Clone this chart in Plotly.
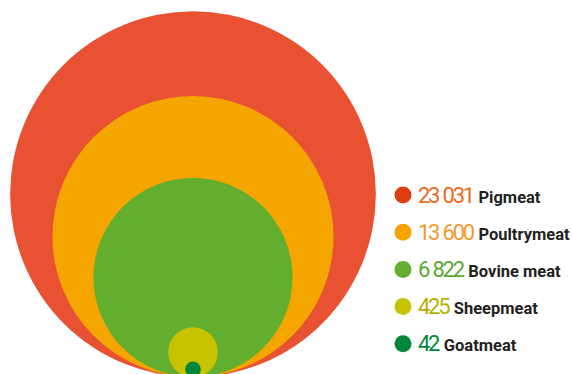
import math
import plotly.graph_objects as go

categories = ["Pigmeat", "Poultrymeat", "Bovine meat", "Sheepmeat", "Goatmeat"]
values = [23031, 13600, 6822, 425, 42]
value_labels = ["23 031", "13 600", "6 822", "425", "42"]

circle_colors = ["#e85131", "#f5a500", "#63ad2f", "#c8c300", "#00873c"]
dot_colors = ["#e03c12", "#f5a300", "#63ad2f", "#c8c300", "#00873c"]
number_colors = ["#ec6a1e", "#f29a2e", "#5aa832", "#b3b100", "#00873c"]

W, H = 572, 374
CX, BOTTOM = 193, 377
K = 1.205  # pixels per sqrt(value)

fig = go.Figure()

shapes = []
for v, c in zip(values, circle_colors):
    r = K * math.sqrt(v)
    shapes.append(dict(type="circle", xref="x", yref="y",
                       x0=CX - r, x1=CX + r, y0=BOTTOM - 2 * r, y1=BOTTOM,
                       fillcolor=c, line=dict(width=0), layer="below"))

LX, LY0, LDY = 403, 195, 37.2
ys = [LY0 + LDY * i for i in range(len(categories))]
fig.add_trace(go.Scatter(x=[LX] * len(categories), y=ys, mode="markers",
                         marker=dict(size=17, color=dot_colors, line=dict(width=0)),
                         hoverinfo="skip", showlegend=False))

annotations = []
for cat, lab, col, y in zip(categories, value_labels, number_colors, ys):
    dstyle = f"font-size:22px;letter-spacing:-2.3px;fill:{col}"
    groups = lab.split(" ")
    parts = []
    for gi, g in enumerate(groups):
        if gi > 0:
            parts.append('<span style="font-size:18px">\u00a0</span>')
        parts.append(f'<span style="{dstyle}">{g}</span>')
    txt = ("".join(parts)
           + '<span style="letter-spacing:1.5px">\u00a0</span>'
           + f'<span style="font-weight:bold">{cat}</span>')
    annotations.append(dict(x=416, y=y, xref="x", yref="y", text=txt,
                            showarrow=False, xanchor="left", yanchor="middle",
                            font=dict(family="Roboto", size=16.5, color="#231f20")))

fig.update_layout(
    width=W, height=H, autosize=False,
    margin=dict(l=0, r=0, t=0, b=0),
    paper_bgcolor="white", plot_bgcolor="white",
    xaxis=dict(range=[0, W], visible=False, fixedrange=True),
    yaxis=dict(range=[H, 0], visible=False, fixedrange=True),
    shapes=shapes, annotations=annotations, showlegend=False,
)

fig.write_html("out.html", config={"displayModeBar": False},
               post_script="document.body.style.margin='0';document.body.style.overflow='hidden';")
